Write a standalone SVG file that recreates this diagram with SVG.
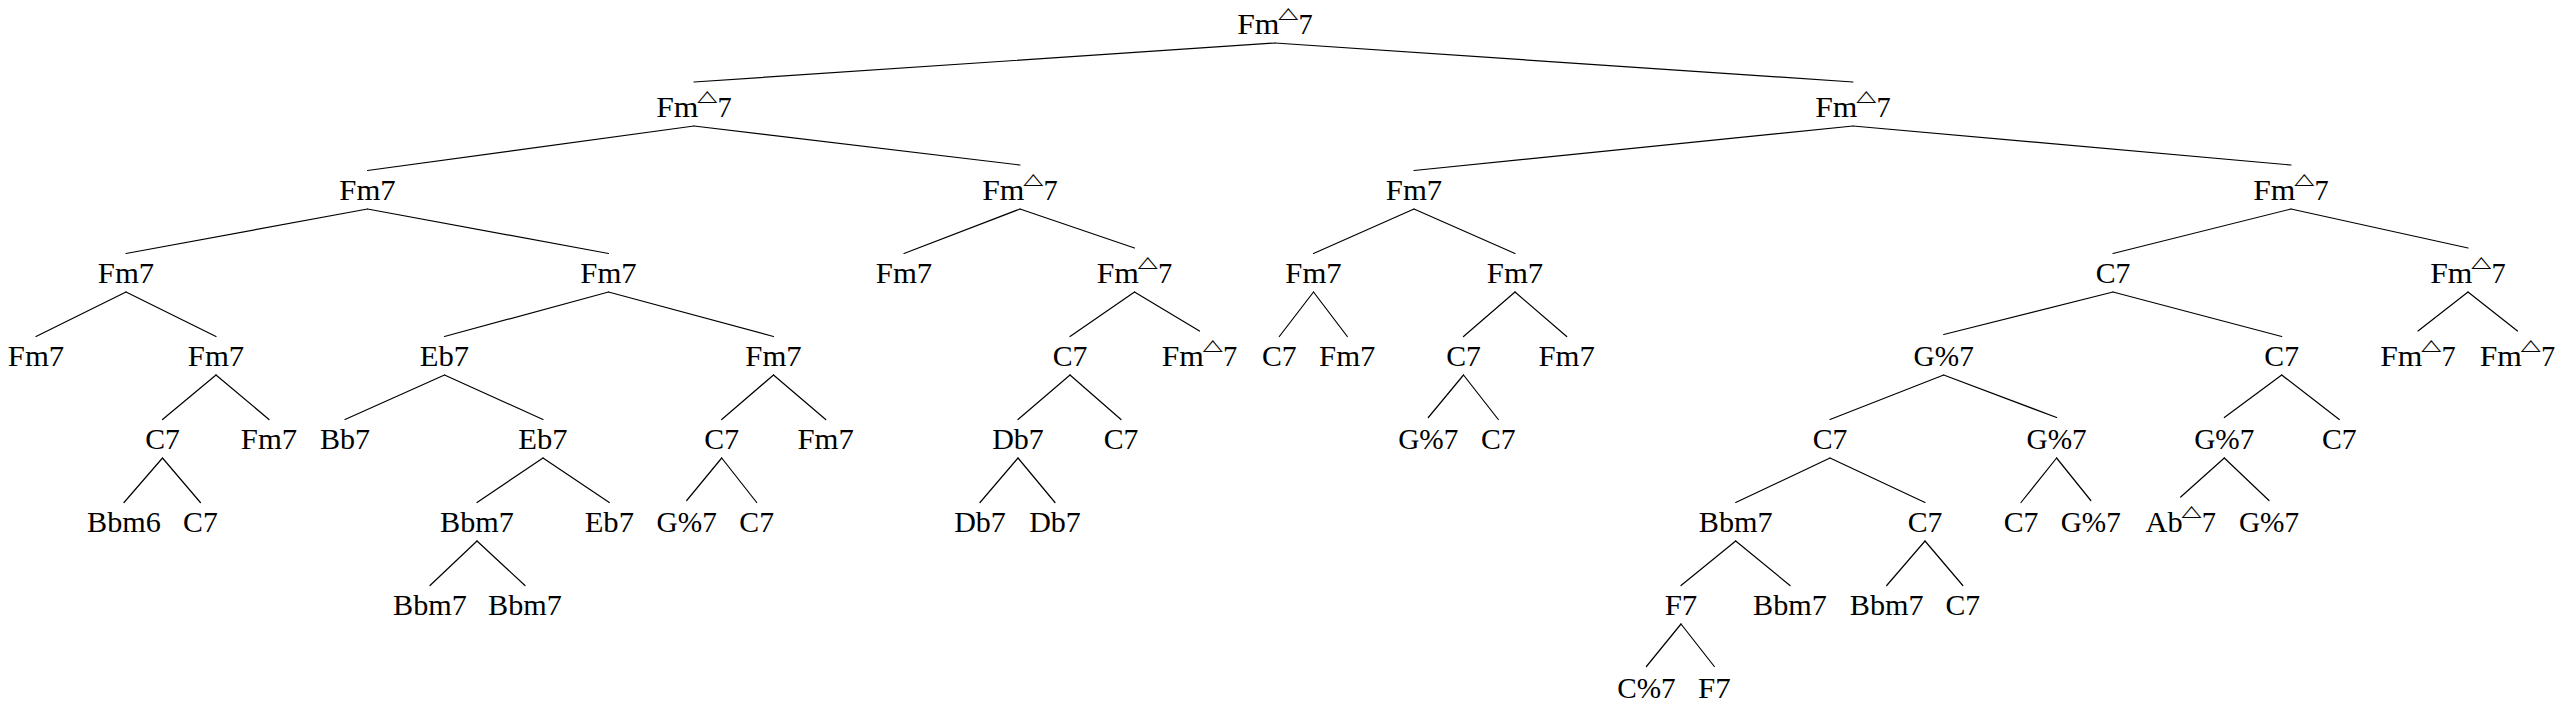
<svg xmlns="http://www.w3.org/2000/svg" width="2566" height="708" viewBox="0 0 2566 708">
<style>
text{font-family:"Liberation Serif","Times New Roman",serif;font-size:29px;fill:#000}
.c{text-anchor:middle}
.s{text-anchor:start}
.tri{font-family:"DejaVu Sans",sans-serif;font-size:26px;text-anchor:middle}
#edges line{stroke:#000;stroke-width:1.2;stroke-linecap:round}
</style>
<rect width="2566" height="708" fill="#fff"/>
<g id="edges">
<line x1="1275" y1="43" x2="694" y2="82"/><line x1="1275" y1="43" x2="1853" y2="82"/>
<line x1="694" y1="126" x2="367.5" y2="170.5"/><line x1="694" y1="126" x2="1020" y2="165"/>
<line x1="1853" y1="126" x2="1414" y2="170.5"/><line x1="1853" y1="126" x2="2291" y2="165"/>
<line x1="367.5" y1="209" x2="126" y2="253.5"/><line x1="367.5" y1="209" x2="608.5" y2="253.5"/>
<line x1="1020" y1="209" x2="904" y2="253.5"/><line x1="1020" y1="209" x2="1134.5" y2="248"/>
<line x1="1414" y1="209" x2="1313.5" y2="253.5"/><line x1="1414" y1="209" x2="1515" y2="253.5"/>
<line x1="2291" y1="209" x2="2113" y2="253.5"/><line x1="2291" y1="209" x2="2468" y2="248"/>
<line x1="126" y1="292" x2="36" y2="336.5"/><line x1="126" y1="292" x2="216" y2="336.5"/>
<line x1="608.5" y1="292" x2="444.5" y2="336.5"/><line x1="608.5" y1="292" x2="773.5" y2="336.5"/>
<line x1="1134.5" y1="292" x2="1070" y2="336.5"/><line x1="1134.5" y1="292" x2="1199.5" y2="331"/>
<line x1="1313.5" y1="292" x2="1279.3" y2="336.5"/><line x1="1313.5" y1="292" x2="1347.3" y2="336.5"/>
<line x1="1515" y1="292" x2="1463.5" y2="336.5"/><line x1="1515" y1="292" x2="1566.7" y2="336.5"/>
<line x1="2113" y1="292" x2="1943.7" y2="334.5"/><line x1="2113" y1="292" x2="2281.7" y2="336.5"/>
<line x1="2468" y1="292" x2="2418" y2="331"/><line x1="2468" y1="292" x2="2517.5" y2="331"/>
<line x1="216" y1="375" x2="162.5" y2="419.5"/><line x1="216" y1="375" x2="269" y2="419.5"/>
<line x1="444.5" y1="375" x2="345" y2="419.5"/><line x1="444.5" y1="375" x2="543" y2="419.5"/>
<line x1="773.5" y1="375" x2="721.7" y2="419.5"/><line x1="773.5" y1="375" x2="825.7" y2="419.5"/>
<line x1="1070" y1="375" x2="1018" y2="419.5"/><line x1="1070" y1="375" x2="1121" y2="419.5"/>
<line x1="1463.5" y1="375" x2="1428.3" y2="417.5"/><line x1="1463.5" y1="375" x2="1498.3" y2="419.5"/>
<line x1="1943.7" y1="375" x2="1830" y2="419.5"/><line x1="1943.7" y1="375" x2="2056.6" y2="417.5"/>
<line x1="2281.7" y1="375" x2="2224.3" y2="417.5"/><line x1="2281.7" y1="375" x2="2339.3" y2="419.5"/>
<line x1="162.5" y1="458" x2="124" y2="502.5"/><line x1="162.5" y1="458" x2="200.4" y2="502.5"/>
<line x1="543" y1="458" x2="477" y2="502.5"/><line x1="543" y1="458" x2="609.3" y2="502.5"/>
<line x1="721.7" y1="458" x2="686.7" y2="500.5"/><line x1="721.7" y1="458" x2="756.7" y2="502.5"/>
<line x1="1018" y1="458" x2="980" y2="502.5"/><line x1="1018" y1="458" x2="1055" y2="502.5"/>
<line x1="1830" y1="458" x2="1735.7" y2="502.5"/><line x1="1830" y1="458" x2="1925" y2="502.5"/>
<line x1="2056.6" y1="458" x2="2021" y2="502.5"/><line x1="2056.6" y1="458" x2="2090.8" y2="500.5"/>
<line x1="2224.3" y1="458" x2="2180.7" y2="497"/><line x1="2224.3" y1="458" x2="2269" y2="500.5"/>
<line x1="477" y1="541" x2="430" y2="585.5"/><line x1="477" y1="541" x2="525" y2="585.5"/>
<line x1="1735.7" y1="541" x2="1681" y2="585.5"/><line x1="1735.7" y1="541" x2="1790" y2="585.5"/>
<line x1="1925" y1="541" x2="1886.7" y2="585.5"/><line x1="1925" y1="541" x2="1962.8" y2="585.5"/>
<line x1="1681" y1="624" x2="1646.4" y2="666.5"/><line x1="1681" y1="624" x2="1714.3" y2="666.5"/>
</g>
<g id="n0"><text class="s" x="1237.25" y="33.5" textLength="42.2" lengthAdjust="spacingAndGlyphs">Fm</text><text class="tri" transform="translate(1288.3,17.5) scale(1,0.6)">△</text><text class="s" x="1298.55" y="33.5" textLength="14.2" lengthAdjust="spacingAndGlyphs">7</text></g>
<g id="n1"><text class="s" x="656.25" y="116.5" textLength="42.2" lengthAdjust="spacingAndGlyphs">Fm</text><text class="tri" transform="translate(707.3,100.5) scale(1,0.6)">△</text><text class="s" x="717.55" y="116.5" textLength="14.2" lengthAdjust="spacingAndGlyphs">7</text></g>
<g id="n2"><text class="s" x="1815.25" y="116.5" textLength="42.2" lengthAdjust="spacingAndGlyphs">Fm</text><text class="tri" transform="translate(1866.3,100.5) scale(1,0.6)">△</text><text class="s" x="1876.55" y="116.5" textLength="14.2" lengthAdjust="spacingAndGlyphs">7</text></g>
<g id="n3"><text class="c" x="367.5" y="199.5" textLength="56.4" lengthAdjust="spacingAndGlyphs">Fm7</text></g>
<g id="n4"><text class="s" x="982.25" y="199.5" textLength="42.2" lengthAdjust="spacingAndGlyphs">Fm</text><text class="tri" transform="translate(1033.3,183.5) scale(1,0.6)">△</text><text class="s" x="1043.55" y="199.5" textLength="14.2" lengthAdjust="spacingAndGlyphs">7</text></g>
<g id="n5"><text class="c" x="1414" y="199.5" textLength="56.4" lengthAdjust="spacingAndGlyphs">Fm7</text></g>
<g id="n6"><text class="s" x="2253.25" y="199.5" textLength="42.2" lengthAdjust="spacingAndGlyphs">Fm</text><text class="tri" transform="translate(2304.3,183.5) scale(1,0.6)">△</text><text class="s" x="2314.55" y="199.5" textLength="14.2" lengthAdjust="spacingAndGlyphs">7</text></g>
<g id="n7"><text class="c" x="126" y="282.5" textLength="56.4" lengthAdjust="spacingAndGlyphs">Fm7</text></g>
<g id="n8"><text class="c" x="608.5" y="282.5" textLength="56.4" lengthAdjust="spacingAndGlyphs">Fm7</text></g>
<g id="n9"><text class="c" x="904" y="282.5" textLength="56.4" lengthAdjust="spacingAndGlyphs">Fm7</text></g>
<g id="n10"><text class="s" x="1096.75" y="282.5" textLength="42.2" lengthAdjust="spacingAndGlyphs">Fm</text><text class="tri" transform="translate(1147.8,266.5) scale(1,0.6)">△</text><text class="s" x="1158.05" y="282.5" textLength="14.2" lengthAdjust="spacingAndGlyphs">7</text></g>
<g id="n11"><text class="c" x="1313.5" y="282.5" textLength="56.4" lengthAdjust="spacingAndGlyphs">Fm7</text></g>
<g id="n12"><text class="c" x="1515" y="282.5" textLength="56.4" lengthAdjust="spacingAndGlyphs">Fm7</text></g>
<g id="n13"><text class="c" x="2113" y="282.5" textLength="34.7" lengthAdjust="spacingAndGlyphs">C7</text></g>
<g id="n14"><text class="s" x="2430.25" y="282.5" textLength="42.2" lengthAdjust="spacingAndGlyphs">Fm</text><text class="tri" transform="translate(2481.3,266.5) scale(1,0.6)">△</text><text class="s" x="2491.55" y="282.5" textLength="14.2" lengthAdjust="spacingAndGlyphs">7</text></g>
<g id="n15"><text class="c" x="36" y="365.5" textLength="56.4" lengthAdjust="spacingAndGlyphs">Fm7</text></g>
<g id="n16"><text class="c" x="216" y="365.5" textLength="56.4" lengthAdjust="spacingAndGlyphs">Fm7</text></g>
<g id="n17"><text class="c" x="444.5" y="365.5" textLength="49.3" lengthAdjust="spacingAndGlyphs">Eb7</text></g>
<g id="n18"><text class="c" x="773.5" y="365.5" textLength="56.4" lengthAdjust="spacingAndGlyphs">Fm7</text></g>
<g id="n19"><text class="c" x="1070" y="365.5" textLength="34.7" lengthAdjust="spacingAndGlyphs">C7</text></g>
<g id="n20"><text class="s" x="1161.75" y="365.5" textLength="42.2" lengthAdjust="spacingAndGlyphs">Fm</text><text class="tri" transform="translate(1212.8,349.5) scale(1,0.6)">△</text><text class="s" x="1223.05" y="365.5" textLength="14.2" lengthAdjust="spacingAndGlyphs">7</text></g>
<g id="n21"><text class="c" x="1279.3" y="365.5" textLength="34.7" lengthAdjust="spacingAndGlyphs">C7</text></g>
<g id="n22"><text class="c" x="1347.3" y="365.5" textLength="56.4" lengthAdjust="spacingAndGlyphs">Fm7</text></g>
<g id="n23"><text class="c" x="1463.5" y="365.5" textLength="34.7" lengthAdjust="spacingAndGlyphs">C7</text></g>
<g id="n24"><text class="c" x="1566.7" y="365.5" textLength="56.4" lengthAdjust="spacingAndGlyphs">Fm7</text></g>
<g id="n25"><text class="c" x="1943.7" y="365.5" textLength="60.2" lengthAdjust="spacingAndGlyphs">G%7</text></g>
<g id="n26"><text class="c" x="2281.7" y="365.5" textLength="34.7" lengthAdjust="spacingAndGlyphs">C7</text></g>
<g id="n27"><text class="s" x="2380.25" y="365.5" textLength="42.2" lengthAdjust="spacingAndGlyphs">Fm</text><text class="tri" transform="translate(2431.3,349.5) scale(1,0.6)">△</text><text class="s" x="2441.55" y="365.5" textLength="14.2" lengthAdjust="spacingAndGlyphs">7</text></g>
<g id="n28"><text class="s" x="2479.75" y="365.5" textLength="42.2" lengthAdjust="spacingAndGlyphs">Fm</text><text class="tri" transform="translate(2530.8,349.5) scale(1,0.6)">△</text><text class="s" x="2541.05" y="365.5" textLength="14.2" lengthAdjust="spacingAndGlyphs">7</text></g>
<g id="n29"><text class="c" x="162.5" y="448.5" textLength="34.7" lengthAdjust="spacingAndGlyphs">C7</text></g>
<g id="n30"><text class="c" x="269" y="448.5" textLength="56.4" lengthAdjust="spacingAndGlyphs">Fm7</text></g>
<g id="n31"><text class="c" x="345" y="448.5" textLength="50.1" lengthAdjust="spacingAndGlyphs">Bb7</text></g>
<g id="n32"><text class="c" x="543" y="448.5" textLength="49.3" lengthAdjust="spacingAndGlyphs">Eb7</text></g>
<g id="n33"><text class="c" x="721.7" y="448.5" textLength="34.7" lengthAdjust="spacingAndGlyphs">C7</text></g>
<g id="n34"><text class="c" x="825.7" y="448.5" textLength="56.4" lengthAdjust="spacingAndGlyphs">Fm7</text></g>
<g id="n35"><text class="c" x="1018" y="448.5" textLength="51.7" lengthAdjust="spacingAndGlyphs">Db7</text></g>
<g id="n36"><text class="c" x="1121" y="448.5" textLength="34.7" lengthAdjust="spacingAndGlyphs">C7</text></g>
<g id="n37"><text class="c" x="1428.3" y="448.5" textLength="60.2" lengthAdjust="spacingAndGlyphs">G%7</text></g>
<g id="n38"><text class="c" x="1498.3" y="448.5" textLength="34.7" lengthAdjust="spacingAndGlyphs">C7</text></g>
<g id="n39"><text class="c" x="1830" y="448.5" textLength="34.7" lengthAdjust="spacingAndGlyphs">C7</text></g>
<g id="n40"><text class="c" x="2056.6" y="448.5" textLength="60.2" lengthAdjust="spacingAndGlyphs">G%7</text></g>
<g id="n41"><text class="c" x="2224.3" y="448.5" textLength="60.2" lengthAdjust="spacingAndGlyphs">G%7</text></g>
<g id="n42"><text class="c" x="2339.3" y="448.5" textLength="34.7" lengthAdjust="spacingAndGlyphs">C7</text></g>
<g id="n43"><text class="c" x="124" y="531.5" textLength="73.8" lengthAdjust="spacingAndGlyphs">Bbm6</text></g>
<g id="n44"><text class="c" x="200.4" y="531.5" textLength="34.7" lengthAdjust="spacingAndGlyphs">C7</text></g>
<g id="n45"><text class="c" x="477" y="531.5" textLength="73.8" lengthAdjust="spacingAndGlyphs">Bbm7</text></g>
<g id="n46"><text class="c" x="609.3" y="531.5" textLength="49.3" lengthAdjust="spacingAndGlyphs">Eb7</text></g>
<g id="n47"><text class="c" x="686.7" y="531.5" textLength="60.2" lengthAdjust="spacingAndGlyphs">G%7</text></g>
<g id="n48"><text class="c" x="756.7" y="531.5" textLength="34.7" lengthAdjust="spacingAndGlyphs">C7</text></g>
<g id="n49"><text class="c" x="980" y="531.5" textLength="51.7" lengthAdjust="spacingAndGlyphs">Db7</text></g>
<g id="n50"><text class="c" x="1055" y="531.5" textLength="51.7" lengthAdjust="spacingAndGlyphs">Db7</text></g>
<g id="n51"><text class="c" x="1735.7" y="531.5" textLength="73.8" lengthAdjust="spacingAndGlyphs">Bbm7</text></g>
<g id="n52"><text class="c" x="1925" y="531.5" textLength="34.7" lengthAdjust="spacingAndGlyphs">C7</text></g>
<g id="n53"><text class="c" x="2021" y="531.5" textLength="34.7" lengthAdjust="spacingAndGlyphs">C7</text></g>
<g id="n54"><text class="c" x="2090.8" y="531.5" textLength="60.2" lengthAdjust="spacingAndGlyphs">G%7</text></g>
<g id="n55"><text class="s" x="2145.5" y="531.5" textLength="37.1" lengthAdjust="spacingAndGlyphs">Ab</text><text class="tri" transform="translate(2191.45,515.5) scale(1,0.6)">△</text><text class="s" x="2201.7" y="531.5" textLength="14.2" lengthAdjust="spacingAndGlyphs">7</text></g>
<g id="n56"><text class="c" x="2269" y="531.5" textLength="60.2" lengthAdjust="spacingAndGlyphs">G%7</text></g>
<g id="n57"><text class="c" x="430" y="614.5" textLength="73.8" lengthAdjust="spacingAndGlyphs">Bbm7</text></g>
<g id="n58"><text class="c" x="525" y="614.5" textLength="73.8" lengthAdjust="spacingAndGlyphs">Bbm7</text></g>
<g id="n59"><text class="c" x="1681" y="614.5" textLength="32.7" lengthAdjust="spacingAndGlyphs">F7</text></g>
<g id="n60"><text class="c" x="1790" y="614.5" textLength="73.8" lengthAdjust="spacingAndGlyphs">Bbm7</text></g>
<g id="n61"><text class="c" x="1886.7" y="614.5" textLength="73.8" lengthAdjust="spacingAndGlyphs">Bbm7</text></g>
<g id="n62"><text class="c" x="1962.8" y="614.5" textLength="34.7" lengthAdjust="spacingAndGlyphs">C7</text></g>
<g id="n63"><text class="c" x="1646.4" y="697.5" textLength="58.4" lengthAdjust="spacingAndGlyphs">C%7</text></g>
<g id="n64"><text class="c" x="1714.3" y="697.5" textLength="32.7" lengthAdjust="spacingAndGlyphs">F7</text></g>
</svg>
